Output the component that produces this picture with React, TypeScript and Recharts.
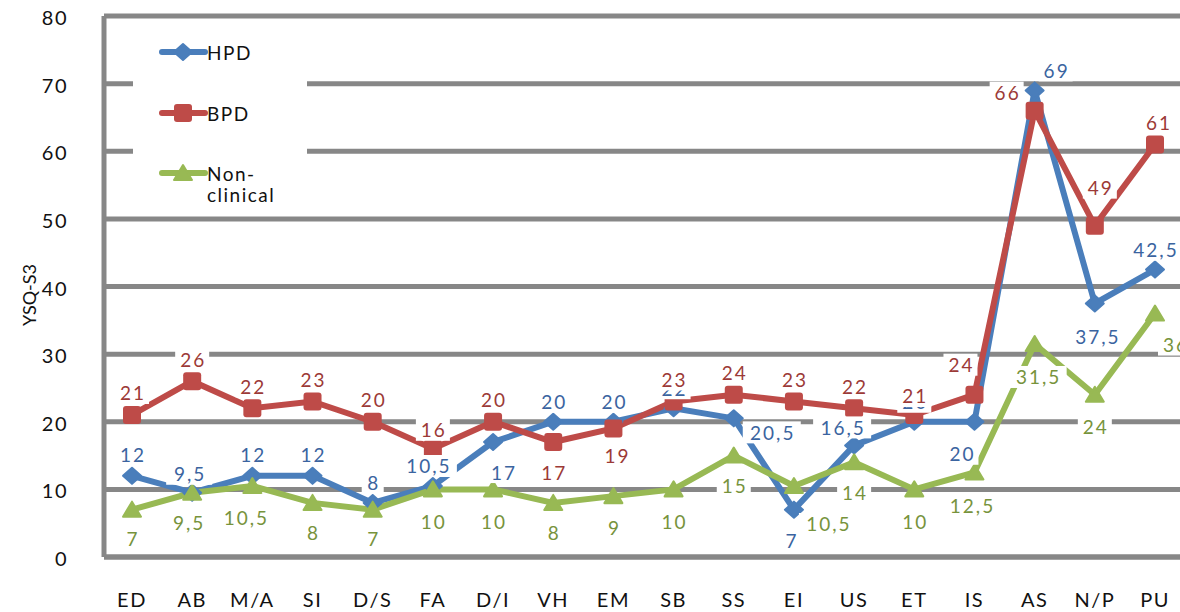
import { LineChart, Line, XAxis, YAxis, CartesianGrid, LabelList, Legend } from 'recharts'

const categories = ['ED', 'AB', 'M/A', 'SI', 'D/S', 'FA', 'D/I', 'VH', 'EM', 'SB', 'SS', 'EI', 'US', 'ET', 'IS', 'AS', 'N/P', 'PU']
const hpd = [12, 9.5, 12, 12, 8, 10.5, 17, 20, 20, 22, 20.5, 7, 16.5, 20, 20, 69, 37.5, 42.5]
const bpd = [21, 26, 22, 23, 20, 16, 20, 17, 19, 23, 24, 23, 22, 21, 24, 66, 49, 61]
const nonClinical = [7, 9.5, 10.5, 8, 7, 10, 10, 8, 9, 10, 15, 10.5, 14, 10, 12.5, 31.5, 24, 36]
const yTicks = [0, 10, 20, 30, 40, 50, 60, 70, 80]

const data = categories.map((c, i) => ({ cat: c, hpd: hpd[i], bpd: bpd[i], non: nonClinical[i] }))

const FONT = 'Lato, "Open Sans", sans-serif'
const GRID = '#878787'
const BLUE = '#4A7EBB'
const RED = '#BE4B48'
const GREEN = '#98B954'

// label placement (dx, dy from the point), tuned by eye
const hpdOffsets = [
  [0, -21], [-3, -19], [0, -21], [0, -21], [0, -20], [-5, -20], [10, 30], [0, -20], [0, -20],
  [0, -20], [38, 14], [-3, 31], [-12, -18], [0, -20], [-13, 32], [21, -20], [2, 33], [0, -20],
]
const bpdOffsets = [
  [0, -22], [0, -22], [0, -22], [0, -22], [0, -22], [0, -19], [0, -22], [0, 30], [3, 27],
  [0, -22], [0, -22], [0, -22], [0, -22], [0, -19], [-14, -30], [-28, -18], [5, -38], [3, -22],
]
const nonOffsets = [
  [0, 29], [-4, 30], [-7, 32], [0, 30], [0, 29], [0, 32], [0, 32], [0, 30], [0, 31],
  [0, 32], [0, 30], [34, 38], [0, 30], [0, 32], [-3, 33], [3, 33], [0, 32], [20, 31],
]

function makeLabel(color: string, offs: number[][]) {
  return (p: any) => {
    const { x, y, value, index } = p
    if (x == null || y == null) return null
    const [dx, dy] = offs[index] ?? [0, -22]
    const text = String(value).replace('.', ',')
    const w = text.length * 12 + 10
    const cx = x + dx
    const cy = y + dy
    return (
      <g key={`lbl-${index}`}>
        <rect x={cx - w / 2} y={cy - 11} width={w} height={22} fill="#fff" />
        <text x={cx + 1} y={cy} textAnchor="middle" dominantBaseline="central" fill={color}
          fontSize={19} fontFamily={FONT} letterSpacing={2}>{text}</text>
      </g>
    )
  }
}

function Diamond({ cx, cy, color }: any) {
  return <polygon points={`${cx - 9},${cy} ${cx},${cy - 8} ${cx + 9},${cy} ${cx},${cy + 8}`} fill={color} stroke={color} strokeWidth={2} strokeLinejoin="round" />
}
function Square({ cx, cy, color }: any) {
  return <rect x={cx - 9} y={cy - 9} width={18} height={18} rx={3} fill={color} />
}
function Triangle({ cx, cy, color }: any) {
  return <polygon points={`${cx - 9},${cy + 7} ${cx},${cy - 8} ${cx + 9},${cy + 7}`} fill={color} stroke={color} strokeWidth={2} strokeLinejoin="round" />
}

const dotOf = (Shape: any, color: string) => (p: any) =>
  p.cx == null ? <g key={`d-${p.index}`} /> : <Shape key={`d-${p.index}`} cx={p.cx} cy={p.cy} color={color} />

const XTick = ({ x, y, payload }: any) => (
  <text x={x} y={y + 34} textAnchor="middle" dominantBaseline="central" fill="#111"
    fontSize={20} fontFamily={FONT} letterSpacing={1.5}>{payload.value}</text>
)
const YTick = ({ y, payload }: any) => (
  <text x={68} y={y + 1} textAnchor="end" dominantBaseline="central" fill="#111"
    fontSize={20} fontFamily={FONT} letterSpacing={1.5}>{payload.value}</text>
)
const YTitle = () => (
  <text x={29} y={295} transform="rotate(-90 29 295)" textAnchor="middle" dominantBaseline="central"
    fill="#111" fontSize={18} fontFamily={FONT}>YSQ-S3</text>
)

const legendRows = [
  { lines: ['HPD'], Shape: Diamond, color: BLUE, y: 27 },
  { lines: ['BPD'], Shape: Square, color: RED, y: 88 },
  { lines: ['Non-', 'clinical'], Shape: Triangle, color: GREEN, y: 148 },
]

const LegendBox = () => (
  <svg width={174} height={180}>
    {legendRows.map((r) => (
      <g key={r.lines[0]}>
        <line x1={29} x2={72} y1={r.y} y2={r.y} stroke={r.color} strokeWidth={6} strokeLinecap="round" />
        <r.Shape cx={50} cy={r.y} color={r.color} />
        {r.lines.map((t, i) => (
          <text key={t} x={74} y={r.y + i * 21} dominantBaseline="central" fill="#111"
            fontSize={19} fontFamily={FONT} letterSpacing={1.5}>{t}</text>
        ))}
      </g>
    ))}
  </svg>
)

export default function App() {
  return (
    <div style={{ width: 1180, height: 612, background: '#fff' }}>
      <style>{'body{margin:0}'}</style>
      <LineChart width={1180} height={612} data={data} margin={{ top: 16, right: 0, bottom: 15, left: 0 }}>
        <CartesianGrid vertical={false} stroke={GRID} strokeWidth={5} />
        <XAxis dataKey="cat" height={40} padding={{ left: 28, right: 25 }} tick={<XTick />}
          tickLine={false} axisLine={{ stroke: GRID, strokeWidth: 5 }} interval={0} />
        <YAxis width={104} domain={[0, 80]} ticks={yTicks} tick={<YTick />} tickLine={false}
          axisLine={{ stroke: GRID, strokeWidth: 5 }} label={<YTitle />} />
        <Legend layout="horizontal" verticalAlign="middle" align="center" content={<LegendBox />}
          wrapperStyle={{ position: 'absolute', left: 133, top: 25, width: 174, height: 180, background: '#fff' }} />
        <Line dataKey="hpd" stroke={BLUE} strokeWidth={6} dot={dotOf(Diamond, BLUE)} activeDot={false} isAnimationActive={false} />
        <Line dataKey="bpd" stroke={RED} strokeWidth={6} dot={dotOf(Square, RED)} activeDot={false} isAnimationActive={false} />
        <Line dataKey="non" stroke={GREEN} strokeWidth={6} dot={dotOf(Triangle, GREEN)} activeDot={false} isAnimationActive={false} />
        <Line dataKey="hpd" stroke="none" dot={false} activeDot={false} legendType="none" isAnimationActive={false}>
          <LabelList dataKey="hpd" content={makeLabel('#3B64A0', hpdOffsets)} />
        </Line>
        <Line dataKey="bpd" stroke="none" dot={false} activeDot={false} legendType="none" isAnimationActive={false}>
          <LabelList dataKey="bpd" content={makeLabel('#9C3A37', bpdOffsets)} />
        </Line>
        <Line dataKey="non" stroke="none" dot={false} activeDot={false} legendType="none" isAnimationActive={false}>
          <LabelList dataKey="non" content={makeLabel('#77933C', nonOffsets)} />
        </Line>
      </LineChart>
    </div>
  )
}
